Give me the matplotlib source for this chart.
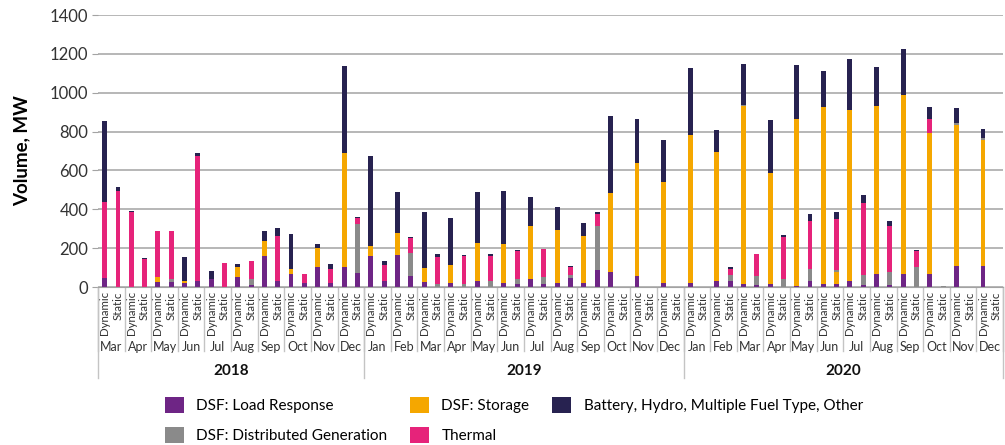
import numpy as np
import matplotlib.pyplot as plt
from matplotlib.patches import Patch
import matplotlib.transforms as mtransforms

plt.rcParams['font.family'] = ['Lato', 'DejaVu Sans']

# 月份与年份
years = ['2018', '2019', '2020']
months_2018 = ['Mar', 'Apr', 'May', 'Jun', 'Jul', 'Aug', 'Sep', 'Oct', 'Nov', 'Dec']
months_full = ['Jan', 'Feb', 'Mar', 'Apr', 'May', 'Jun', 'Jul', 'Aug', 'Sep', 'Oct', 'Nov', 'Dec']
kinds = ['Dynamic', 'Static']

# 每个月两根柱子：Dynamic, Static
load_response = [44, 0, 0, 0, 24, 24, 19, 29, 43, 0, 51, 9, 157, 32, 65, 19, 103, 19, 101, 70,
                 161, 32, 167, 55, 27, 0, 22, 0, 32, 0, 22, 14, 39, 14, 19, 46, 22, 89, 75, 0, 56, 0, 22, 0,
                 22, 0, 31, 29, 17, 9, 15, 0, 7, 32, 17, 17, 29, 9, 65, 9, 68, 0, 68, 0, 106, 0, 106, 0]
storage = [0, 0, 0, 0, 29, 0, 12, 0, 0, 0, 50, 0, 82, 0, 26, 0, 99, 0, 589, 0,
           51, 0, 113, 0, 69, 0, 91, 0, 195, 0, 197, 0, 277, 0, 272, 0, 243, 0, 407, 0, 581, 0, 518, 0,
           759, 0, 666, 0, 913, 0, 571, 0, 856, 0, 908, 60, 882, 0, 865, 0, 922, 0, 725, 0, 726, 0, 653, 0]
dist_gen = [0, 0, 0, 0, 0, 15, 0, 0, 0, 0, 0, 32, 0, 0, 0, 0, 0, 0, 0, 255,
            0, 0, 0, 121, 0, 17, 0, 17, 0, 32, 0, 29, 0, 39, 0, 16, 0, 225, 0, 0, 0, 0, 0, 0,
            0, 0, 0, 33, 8, 47, 0, 41, 0, 62, 0, 13, 0, 53, 0, 70, 0, 101, 0, 7, 14, 0, 8, 0]
thermal = [393, 496, 388, 142, 236, 250, 0, 644, 0, 121, 0, 91, 0, 231, 0, 48, 0, 75, 0, 29,
           0, 83, 0, 74, 0, 139, 0, 144, 0, 129, 0, 142, 0, 142, 0, 39, 0, 62, 0, 0, 0, 0, 0, 0,
           0, 0, 0, 32, 0, 115, 0, 217, 0, 246, 0, 259, 0, 369, 0, 234, 0, 84, 70, 0, 0, 0, 0, 0]
other = [418, 17, 5, 5, 0, 0, 123, 17, 41, 0, 17, 0, 48, 39, 184, 0, 17, 24, 448, 7,
         461, 17, 207, 6, 289, 13, 241, 6, 260, 8, 275, 6, 145, 3, 123, 7, 65, 10, 400, 0, 226, 0, 217, 0,
         347, 0, 113, 9, 210, 0, 275, 12, 282, 38, 189, 36, 265, 42, 201, 27, 237, 6, 65, 0, 75, 0, 45, 0]

series = [
    ('DSF: Load Response', load_response, '#6E2585'),
    ('DSF: Storage', storage, '#F5A700'),
    ('DSF: Distributed Generation', dist_gen, '#8A8A8A'),
    ('Thermal', thermal, '#E6237A'),
    ('Battery, Hydro, Multiple Fuel Type, Other', other, '#272250'),
]

month_labels = months_2018 + months_full + months_full
year_of_month = ['2018'] * len(months_2018) + ['2019'] * 12 + ['2020'] * 12
n = len(month_labels) * 2
x = np.arange(n)

fig = plt.figure(figsize=(10.05, 4.45), dpi=100)
ax = fig.add_axes([98 / 1005, 1 - 287 / 445, 905 / 1005, 272 / 445])

bottom = np.zeros(n)
handles = {}
for name, vals, color in series:
    vals = np.array(vals, dtype=float)
    ax.bar(x, vals, width=0.37, bottom=bottom, color=color, linewidth=0)
    bottom += vals
    handles[name] = Patch(facecolor=color, edgecolor='none')

ax.set_xlim(-0.5, n - 0.5)
ax.set_ylim(0, 1400)
ax.set_yticks(np.arange(0, 1401, 200))
ax.grid(axis='y', color='#a3a3a3', linewidth=1.1)
ax.set_axisbelow(True)
for s in ['left', 'right', 'top']:
    ax.spines[s].set_visible(False)
ax.spines['bottom'].set_color('#a3a3a3')
ax.tick_params(axis='y', length=4, color='#a3a3a3', labelsize=12, labelcolor='#333333', pad=3)

ax.set_xticks(x)
ax.set_xticklabels(kinds * len(month_labels), rotation=90, fontsize=8.3, color='#333333')
ax.tick_params(axis='x', length=0, pad=3)

ax.set_ylabel('Volume, MW', fontsize=13.5, fontweight='bold')
ax.yaxis.set_label_coords(-0.075, 0.5)

# 多级分类轴：月份、年份与分隔线
trans = mtransforms.blended_transform_factory(ax.transData, ax.transAxes)
for i, m in enumerate(month_labels):
    ax.text(2 * i + 0.5, -0.222, m, transform=trans, ha='center', va='center',
            fontsize=9, color='#333333')
for i in range(len(month_labels) + 1):
    ax.plot([2 * i - 0.5] * 2, [0, -0.235], transform=trans, color='#c4c4c4',
            linewidth=1, clip_on=False)

start = 0
for yr in years:
    cnt = year_of_month.count(yr)
    ax.text(start + cnt - 0.5, -0.31, yr, transform=trans, ha='center', va='center',
            fontsize=11, fontweight='bold', color='#111111')
    ax.plot([start - 0.5] * 2, [0, -0.335], transform=trans, color='#c4c4c4',
            linewidth=1, clip_on=False)
    start += cnt * 2
ax.plot([start - 0.5] * 2, [0, -0.335], transform=trans, color='#c4c4c4',
        linewidth=1, clip_on=False)

order = ['DSF: Load Response', 'DSF: Distributed Generation', 'DSF: Storage', 'Thermal',
         'Battery, Hydro, Multiple Fuel Type, Other']
fig.legend([handles[k] for k in order], order, ncol=3, loc='upper left',
           bbox_to_anchor=(151 / 1005, 1 - 383 / 445), frameon=False, fontsize=11,
           handlelength=1.25, handleheight=1.25, handletextpad=0.8,
           columnspacing=1.5, labelspacing=0.9)

fig.savefig('out.png', dpi=100)
